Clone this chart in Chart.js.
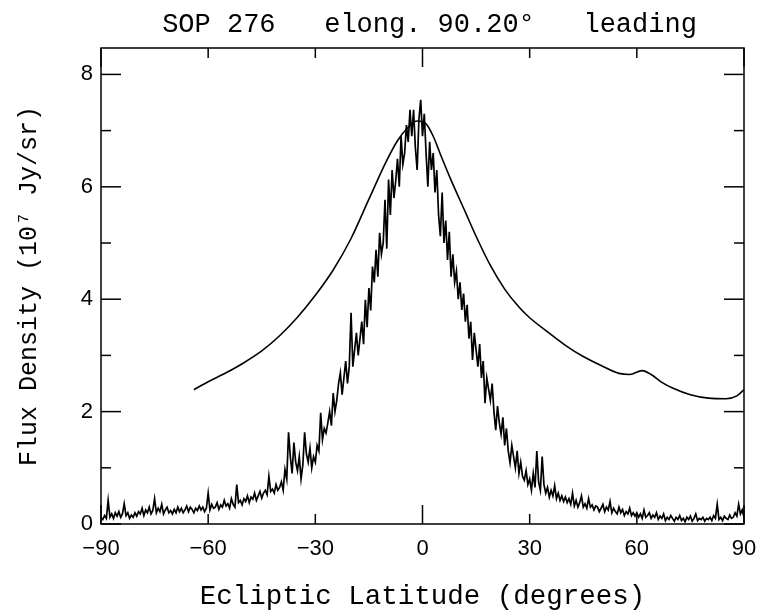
<!DOCTYPE html>
<html><head><meta charset="utf-8">
<script src="https://cdn.jsdelivr.net/npm/chart.js@4"></script>
<style>html,body{margin:0;padding:0;background:#fff}</style>
</head><body>
<canvas id="c" width="759" height="614" style="display:block"></canvas>
<script>
// ---- data ----
const chartTitle = 'SOP 276   elong. 90.20\u00B0   leading';
const xAxisTitle = 'Ecliptic Latitude (degrees)';
const yAxisTitle = 'Flux Density (10\u2077 Jy/sr)';

// observed (noisy) profile, sampled every 0.5 degrees from -90 to +90
const latStart = -90;
const latStep = 0.5;
const observedFlux = [
  0.12,0.08,0.15,0.1,0.42,0.12,0.18,0.1,0.2,0.14,0.22,0.12,0.18,0.36,0.15,0.2,0.1,0.16,0.12,0.2,
  0.14,0.22,0.18,0.28,0.15,0.25,0.2,0.3,0.18,0.24,0.45,0.2,0.28,0.22,0.35,0.18,0.25,0.3,0.2,0.24,
  0.18,0.26,0.2,0.3,0.22,0.28,0.2,0.25,0.32,0.22,0.3,0.26,0.2,0.28,0.24,0.32,0.25,0.3,0.22,0.28,
  0.55,0.25,0.35,0.28,0.3,0.38,0.26,0.34,0.3,0.42,0.32,0.36,0.28,0.45,0.35,0.3,0.7,0.38,0.42,0.34,
  0.45,0.4,0.5,0.38,0.48,0.44,0.55,0.42,0.5,0.58,0.46,0.55,0.6,0.52,0.85,0.58,0.62,0.55,0.7,0.6,
  0.65,0.75,0.6,0.97,0.8,1.63,1.2,0.9,1.45,1.1,0.95,1.2,0.8,1.05,1.63,1.25,1.1,1.35,1.0,1.2,
  1.1,1.4,1.3,1.98,1.5,1.7,1.62,1.8,2.0,1.75,2.33,2.0,2.2,2.5,2.69,2.3,2.6,2.9,2.5,2.8,
  3.76,2.8,3.1,3.4,3.0,3.3,3.6,3.2,3.99,3.5,4.2,3.8,4.58,4.3,4.88,4.4,5.18,4.8,5.0,5.77,
  4.9,6.13,5.5,6.3,5.8,6.1,6.5,6.0,6.9,6.4,6.6,7.1,6.8,7.37,6.9,7.37,6.7,6.3,7.2,7.55,
  6.9,7.3,6.6,6.0,6.8,6.3,6.6,5.9,6.3,5.5,5.12,5.9,5.0,5.4,4.7,5.2,4.4,4.8,4.3,4.5,
  4.0,4.3,3.81,4.1,3.6,3.9,3.3,3.6,2.92,3.4,3.1,2.8,3.2,2.6,2.9,2.15,2.6,2.4,2.2,2.5,
  2.0,1.67,2.1,1.8,1.6,1.9,1.4,1.7,1.3,1.09,1.4,1.2,1.0,1.3,0.9,1.1,0.85,0.78,0.95,0.7,
  0.8,0.6,0.9,0.65,1.3,0.75,0.6,1.2,0.7,0.55,0.65,0.48,0.6,0.5,0.68,0.45,0.55,0.42,0.5,0.4,
  0.48,0.38,0.45,0.35,0.55,0.32,0.42,0.3,0.38,0.5,0.3,0.36,0.28,0.45,0.3,0.34,0.25,0.32,0.3,0.22,
  0.28,0.35,0.22,0.3,0.25,0.4,0.2,0.28,0.22,0.18,0.3,0.2,0.26,0.15,0.22,0.18,0.28,0.15,0.2,0.14,
  0.2,0.12,0.18,0.1,0.25,0.12,0.15,0.2,0.1,0.16,0.12,0.2,0.08,0.14,0.1,0.18,0.06,0.12,0.08,0.15,
  0.1,0.05,0.12,0.08,0.15,0.06,0.1,0.04,0.12,0.08,0.14,0.05,0.1,0.18,0.06,0.1,0.08,0.12,0.05,0.1,
  0.08,0.12,0.06,0.15,0.1,0.35,0.08,0.12,0.06,0.14,0.1,0.08,0.16,0.1,0.12,0.2,0.14,0.35,0.18,0.25,
  0.12
];

// smooth model curve
const modelLat  = [-64,-60,-55,-50,-45,-40,-35,-30,-25,-20,-15,-10,-7,-4,-1.5,1,3,5,8,12,15,19,23,27,30,35,40,45,50,55,58,61.5,64,67,70,75,80,85,88,90];
const modelFlux = [2.39,2.53,2.69,2.87,3.08,3.35,3.68,4.07,4.52,5.08,5.78,6.47,6.82,7.06,7.17,7.12,6.9,6.58,6.12,5.55,5.12,4.6,4.18,3.86,3.67,3.42,3.18,2.98,2.82,2.68,2.66,2.73,2.66,2.52,2.42,2.3,2.24,2.23,2.28,2.39];

const xTickLabels = [-90,-60,-30,0,30,60,90];
const yTickLabels = [0,2,4,6,8];
const xLongMarks = [-90,0,90];
const xShortMarks = [-60,-30,30,60];
const yLongMarks = [0,2,4,6,8];
const yShortMarks = [1,3,5,7];
const xMin = -90, xMax = 90, yMin = 0, yMax = 8.47;

// ---- build ----
const observedPts = observedFlux.map((v,i)=>({x: latStart + i*latStep, y: v}));
const modelPts = modelLat.map((v,i)=>({x: v, y: modelFlux[i]}));

const textFont = "'Liberation Mono', 'Courier New', monospace";
const sans = "'Liberation Sans', Arial, sans-serif";

const framePlugin = {
  id: 'frame',
  afterDatasetsDraw(chart) {
    const {ctx, chartArea: a, scales: {x, y}} = chart;
    ctx.save();
    ctx.strokeStyle = '#000';
    ctx.lineWidth = 1.5;
    ctx.strokeRect(a.left, a.top, a.right - a.left, a.bottom - a.top);
    const seg = (x1,y1,x2,y2)=>{ctx.beginPath();ctx.moveTo(x1,y1);ctx.lineTo(x2,y2);ctx.stroke();};
    xLongMarks.forEach(v=>{const p=x.getPixelForValue(v); seg(p,a.bottom,p,a.bottom-19); seg(p,a.top,p,a.top+19);});
    xShortMarks.forEach(v=>{const p=x.getPixelForValue(v); seg(p,a.bottom,p,a.bottom-10); seg(p,a.top,p,a.top+10);});
    yLongMarks.forEach(v=>{const p=y.getPixelForValue(v); seg(a.left,p,a.left+20,p); seg(a.right,p,a.right-20,p);});
    yShortMarks.forEach(v=>{const p=y.getPixelForValue(v); seg(a.left,p,a.left+10,p); seg(a.right,p,a.right-10,p);});
    // title centred over the plot
    ctx.fillStyle = '#000';
    ctx.font = "27px " + textFont;
    ctx.textAlign = 'center';
    ctx.textBaseline = 'alphabetic';
    ctx.fillText(chartTitle, (a.left + a.right)/2 + 7, 32);
    ctx.restore();
  }
};

new Chart(document.getElementById('c'), {
  type: 'line',
  data: {
    datasets: [
      {data: observedPts, borderColor: '#000', borderWidth: 1.7, pointRadius: 0, tension: 0, fill: false},
      {data: modelPts, borderColor: '#000', borderWidth: 1.6, pointRadius: 0, cubicInterpolationMode: 'monotone', fill: false}
    ]
  },
  options: {
    responsive: false,
    animation: false,
    devicePixelRatio: 1,
    layout: {padding: {left: 0, right: 15, top: 48, bottom: 0}},
    plugins: {legend: {display: false}, tooltip: {enabled: false}, title: {display: false}},
    scales: {
      x: {
        type: 'linear', min: xMin, max: xMax,
        grid: {display: false, drawTicks: false},
        border: {display: false},
        afterBuildTicks: s => { s.ticks = xTickLabels.map(v=>({value: v})); },
        afterFit: s => { s.height = 90; s.paddingLeft = 0; s.paddingRight = 0; },
        ticks: {color: '#000', padding: 12, maxRotation: 0, autoSkip: false,
          font: {family: sans, size: 22},
          callback: v => String(v).replace('-', '\u2212')},
        title: {display: true, text: xAxisTitle, color: '#000',
          font: {family: textFont, size: 27.5}, padding: {top: 0, bottom: 1}}
      },
      y: {
        type: 'linear', min: yMin, max: yMax,
        grid: {display: false, drawTicks: false},
        border: {display: false},
        afterBuildTicks: s => { s.ticks = yTickLabels.map(v=>({value: v})); },
        afterFit: s => { s.width = 101; s.paddingTop = 0; s.paddingBottom = 0; },
        ticks: {color: '#000', padding: 8, font: {family: sans, size: 22}},
        title: {display: true, text: yAxisTitle, color: '#000',
          font: {family: textFont, size: 25}, padding: {top: 14, bottom: 0}}
      }
    }
  },
  plugins: [framePlugin]
});
</script>
</body></html>
